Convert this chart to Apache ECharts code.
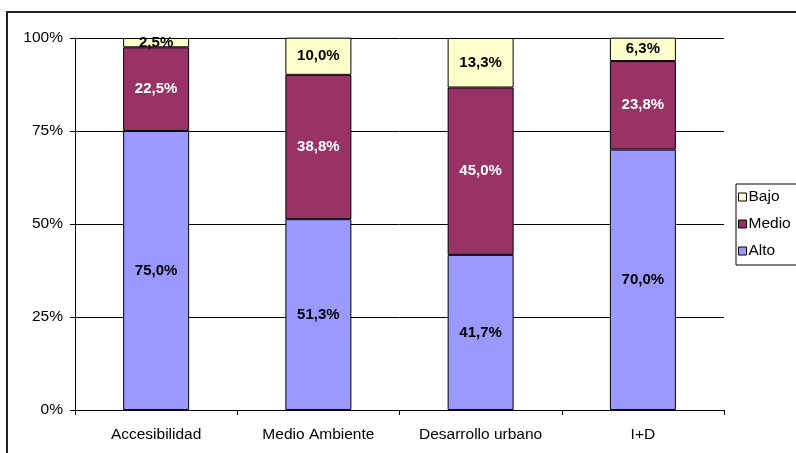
<!DOCTYPE html>
<html>
<head>
<meta charset="utf-8">
<script src="https://cdn.jsdelivr.net/npm/echarts@6/dist/echarts.min.js"></script>
<style>
  html, body { margin: 0; padding: 0; background: #fff; }
  #chart { width: 796px; height: 453px; }
</style>
</head>
<body>
<div id="chart"></div>
<script>
// Areas evaluated and share of each level (percent)
const categories = ['Accesibilidad', 'Medio Ambiente', 'Desarrollo urbano', 'I+D'];
const alto  = [75.0, 51.3, 41.7, 70.0];
const medio = [22.5, 38.8, 45.0, 23.8];
const bajo  = [2.5, 10.0, 13.3, 6.3];
const yTicks = [0, 25, 50, 75, 100];

const FONT = 'Liberation Sans, Arial, sans-serif';
const fmt = v => v.toFixed(1).replace('.', ',') + '%';

function seriesFor(name, data, color, textColor) {
  return {
    name: name,
    type: 'bar',
    stack: 'total',
    barWidth: 66,
    data: data,
    itemStyle: { color: color, borderColor: '#000', borderWidth: 1 },
    label: {
      show: true,
      position: 'inside',
      formatter: p => fmt(p.value),
      color: textColor,
      fontFamily: FONT,
      fontWeight: 'bold',
      fontSize: 15
    }
  };
}

const chart = echarts.init(document.getElementById('chart'), null, { renderer: 'canvas' });
chart.setOption({
  animation: false,
  backgroundColor: '#fff',
  graphic: [{
    type: 'rect',
    shape: { x: 7, y: 12, width: 820, height: 470 },
    style: { fill: 'none', stroke: '#222', lineWidth: 2 },
    z: -1
  }],
  grid: { left: 75, right: 72, top: 38, bottom: 43, containLabel: false },
  legend: {
    orient: 'vertical',
    left: 736,
    top: 184,
    data: ['Bajo', 'Medio', 'Alto'],
    itemWidth: 8,
    itemHeight: 8,
    itemGap: 11,
    icon: 'rect',
    backgroundColor: '#fff',
    borderColor: '#000',
    borderWidth: 1,
    borderRadius: 0,
    padding: [5, 30, 6, 2],
    textStyle: { fontFamily: FONT, fontSize: 15.5, color: '#000', padding: [0, 0, 0, -3] },
    itemStyle: { borderColor: '#000', borderWidth: 1 }
  },
  xAxis: {
    type: 'category',
    data: categories,
    axisLine: { show: true, lineStyle: { color: '#000', width: 1 } },
    axisTick: { show: true, alignWithLabel: false, length: 5, lineStyle: { color: '#000' } },
    axisLabel: { fontFamily: FONT, fontSize: 15.5, color: '#000', margin: 17 },
    splitLine: { show: false }
  },
  yAxis: {
    type: 'value',
    min: yTicks[0],
    max: yTicks[yTicks.length - 1],
    interval: 25,
    axisLine: { show: true, lineStyle: { color: '#000', width: 1 } },
    axisTick: { show: true, length: 5, lineStyle: { color: '#000' } },
    axisLabel: { fontFamily: FONT, fontSize: 15.5, color: '#000', margin: 12, formatter: '{value}%' },
    splitLine: { show: true, lineStyle: { color: '#000', width: 1 } }
  },
  series: [
    seriesFor('Alto', alto, '#9999FF', '#000'),
    seriesFor('Medio', medio, '#993366', '#fff'),
    seriesFor('Bajo', bajo, '#FFFFCC', '#000')
  ]
});
</script>
</body>
</html>
